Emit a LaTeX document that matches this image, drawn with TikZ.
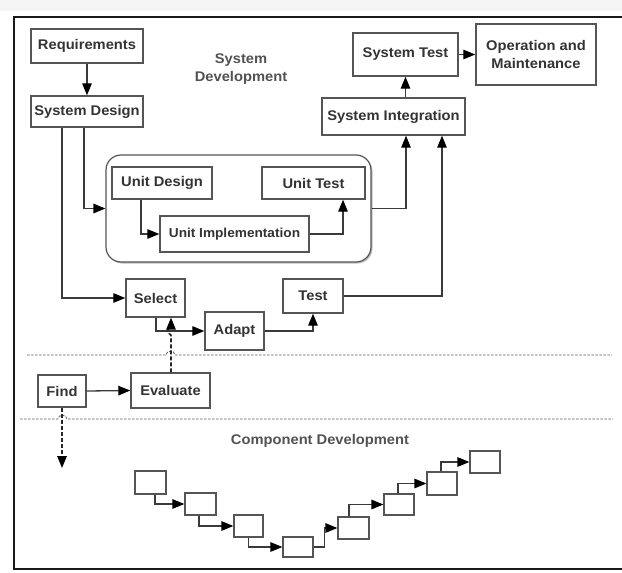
\documentclass[tikz,border=0pt]{standalone}
\usepackage{fontspec}
\setmainfont{Liberation Sans}[FakeStretch=1.05]
\usetikzlibrary{arrows.meta,shadows,calc}
\definecolor{ink}{HTML}{333333}
\definecolor{edge}{HTML}{555555}
\definecolor{wire}{HTML}{3A3A3A}
\begin{document}
\begin{tikzpicture}[x=1pt,y=-1pt,
  lbl/.style={font=\fontsize{14}{18}\selectfont\bfseries, text=ink},
  stage/.style={lbl, draw=edge, line width=1.4pt, fill=white, inner sep=0pt,
    align=center, drop shadow={shadow xshift=1.2pt, shadow yshift=-1.2pt, opacity=0.3, fill=black}},
  mini/.style={draw=edge, line width=1.2pt, fill=white, inner sep=0pt,
    drop shadow={shadow xshift=1pt, shadow yshift=-1pt, opacity=0.2, fill=black}},
  flow/.style={draw=wire, line width=1.3pt, -{Triangle[length=12pt,width=9.5pt,color=black]}},
  dflow/.style={flow, draw=black!85, line width=1.6pt, dash pattern=on 4pt off 2pt},
  divider/.style={draw=gray!70!black, line width=0.8pt, dash pattern=on 2.5pt off 1.5pt},
]
\useasboundingbox (0,0) rectangle (622,573);
\begin{scope}
\clip (0,0) rectangle (622,573);
% page strip and outer frame
\fill[gray!8] (0,0) rectangle (622,11);
\draw[line width=2.5pt, black!90] (14,17) rectangle (626,569);

% system development stages
\node[stage, minimum width=112pt, minimum height=34pt] (req) at (87,46) {Requirements};
\node[stage, minimum width=112pt, minimum height=31pt] (sysdes) at (87,111.5) {System Design};
\node[lbl, align=center, text=ink!85] (sysdev) at (241,69) {System\\Development};
\node[stage, minimum width=105pt, minimum height=43pt] (systest) at (405.5,54.5) {System Test};
\node[stage, minimum width=120pt, minimum height=61pt] (om) at (536,54.5) {Operation and\\Maintenance};
\node[stage, minimum width=143pt, minimum height=37pt] (sysint) at (393.5,116.5) {System Integration};

% unit-level group
\node[draw=edge, line width=1.2pt, fill=white, rounded corners=15pt, inner sep=0pt,
  minimum width=265pt, minimum height=107pt,
  drop shadow={shadow xshift=1.5pt, shadow yshift=-1.5pt, opacity=0.25, fill=black}] (unitgrp) at (238.5,208.5) {};
\node[stage, minimum width=100pt, minimum height=32pt] (unitdes) at (162,183) {Unit Design};
\node[stage, minimum width=103pt, minimum height=32pt] (unittest) at (313.5,183) {Unit Test};
\node[stage, minimum width=149pt, minimum height=36pt, font=\fontsize{13}{17}\selectfont\bfseries] (unitimpl) at (234.5,234) {Unit Implementation};

% component reuse stages
\node[stage, minimum width=59pt, minimum height=38pt] (select) at (155.5,298) {Select};
\node[stage, minimum width=60pt, minimum height=34pt] (test) at (313,296) {Test};
\node[stage, minimum width=59pt, minimum height=38pt] (adapt) at (234.5,331) {Adapt};
\node[stage, minimum width=48pt, minimum height=32pt] (find) at (62,391) {Find};
\node[stage, minimum width=79pt, minimum height=35pt] (eval) at (170.5,390.5) {Evaluate};
\node[lbl, text=ink!85] (compdev) at (320,441) {Component Development};

% component development staircase
\node[mini, minimum width=31pt, minimum height=23pt] (b1) at (150.5,482.5) {};
\node[mini, minimum width=31pt, minimum height=22pt] (b2) at (200.5,504) {};
\node[mini, minimum width=29pt, minimum height=22pt] (b3) at (248.5,526) {};
\node[mini, minimum width=30pt, minimum height=20pt] (b4) at (298,547) {};
\node[mini, minimum width=31pt, minimum height=22pt] (b5) at (353.5,528) {};
\node[mini, minimum width=30pt, minimum height=21pt] (b6) at (399,504.5) {};
\node[mini, minimum width=30pt, minimum height=23pt] (b7) at (442,483.5) {};
\node[mini, minimum width=30pt, minimum height=22pt] (b8) at (485,462) {};

% dividers with line hops
\draw[divider] (27,355) -- (166,355) .. controls (166,350) and (175,350) .. (175,355) -- (612,355);
\draw[divider] (20,419) -- (58,419) .. controls (58,414) and (67,414) .. (67,419) -- (613,419);

% system flow
\draw[flow] (req.south) -- (sysdes.north);
\draw[flow] (systest.east) -- (om.west);
\draw[flow] (sysint.north -| systest.south) -- (systest.south);
\draw[flow] ([xshift=-3pt]sysdes.south) |- (unitgrp.west);
\draw[flow] ([xshift=-25pt]sysdes.south) |- (select.west);
\draw[flow] ([xshift=-21pt]unitdes.south) |- (unitimpl.west);
\draw[flow] (unitimpl.east) -| ([xshift=29.5pt]unittest.south);
\draw[flow] (unitgrp.east) -| ([xshift=12.5pt]sysint.south);
\draw[flow] (test.east) -| ([xshift=48.5pt]sysint.south);
\draw[flow] ([xshift=0.5pt]select.south) |- (adapt.west);
\draw[flow] (adapt.east) -| (test.south);
\draw[flow] (find.east) -- (eval.west);

% dashed hand-offs from component development
\coordinate (hopA) at ($(eval.north)+(0.5,-37)$);
\coordinate (hopB) at ($(eval.north)+(0.5,-47)$);
\draw[dflow] (eval.north -| hopA) -- (hopA) .. controls ($(hopA)+(-4,-2)$) and ($(hopB)+(-4,2)$) .. (hopB) -- ([xshift=15.5pt]select.south);
\coordinate (findend) at (62,468);
\draw[dflow] (find.south) -- (findend);

% staircase links
\draw[flow] ([xshift=4.5pt]b1.south) |- (b2.west);
\draw[flow] ([xshift=-1.5pt]b2.south) |- (b3.west);
\draw[flow] (b3.south) |- (b4.west);
\draw[flow] (b4.east) -- ++(11,0) |- (b5.west);
\draw[flow] ([xshift=-4.5pt]b5.north) |- (b6.west);
\draw[flow] ([xshift=-1pt]b6.north) |- (b7.west);
\draw[flow] ([xshift=-1pt]b7.north) |- (b8.west);
\end{scope}
\end{tikzpicture}
\end{document}
